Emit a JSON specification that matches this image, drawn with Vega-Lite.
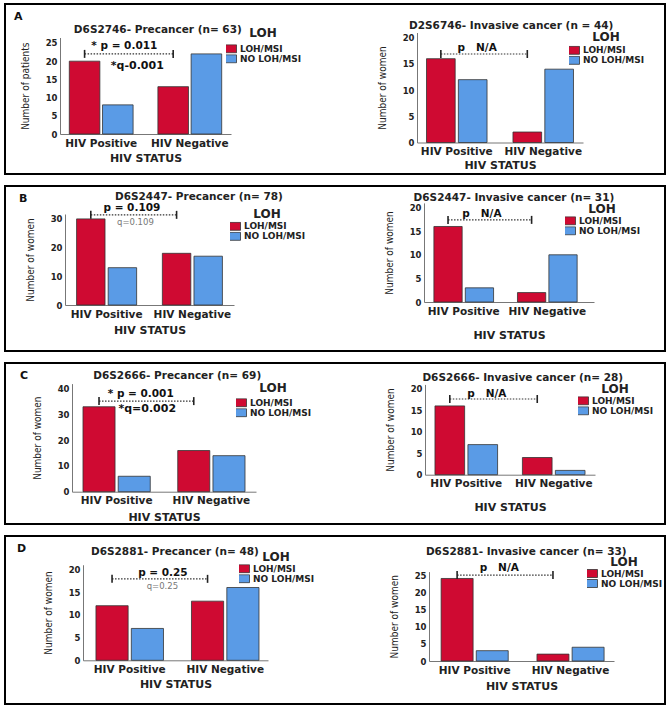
{
"$schema": "https://vega.github.io/schema/vega-lite/v6.json",
"padding": {"left": 4, "top": 3, "right": 5, "bottom": 4},
"autosize": {"type": "pad"},
"spacing": 12,
"bounds": "flush",
"vconcat": [
{
"width": 660, "height": 170,
"title": {"text": "A", "anchor": "start", "frame": "group", "offset": -18, "dx": 9, "fontSize": 11, "fontWeight": "bold", "font": "DejaVu Sans", "color": "#111"},
"resolve": {"scale": {"x": "independent", "y": "independent", "xOffset": "independent", "color": "independent"}, "axis": {"x": "independent", "y": "independent"}, "legend": {"color": "independent"}},
"layer": [
{
"data": {"values": [
{"k": "bar", "status": "HIV Positive", "loh": "LOH/MSI", "v": 20},
{"k": "bar", "status": "HIV Positive", "loh": "NO LOH/MSI", "v": 8},
{"k": "bar", "status": "HIV Negative", "loh": "LOH/MSI", "v": 13},
{"k": "bar", "status": "HIV Negative", "loh": "NO LOH/MSI", "v": 22},
{"k": "br", "status": "HIV Positive", "loh": "LOH/MSI", "v": 22},
{"k": "br", "status": "HIV Negative", "loh": "LOH/MSI", "v": 22},
{"k": "t", "status": "HIV Positive", "loh": "NO LOH/MSI", "v": 28.6, "label": "D6S2746- Precancer (n= 63)"},
{"k": "p", "status": "HIV Positive", "loh": "NO LOH/MSI", "v": 24.2, "label": "* p = 0.011"},
{"k": "q", "status": "HIV Positive", "loh": "NO LOH/MSI", "v": 18.7, "label": "*q-0.001"}
]},
"encoding": {
"x": {"field": "status", "type": "nominal", "sort": ["HIV Positive", "HIV Negative"], "scale": {"range": [55, 226], "paddingInner": 0.28, "paddingOuter": 0.105}, "axis": {"orient": "bottom", "offset": -40, "title": "HIV STATUS", "titlePadding": 4}},
"xOffset": {"field": "loh", "type": "nominal", "sort": ["LOH/MSI", "NO LOH/MSI"], "scale": {"paddingInner": 0.08}},
"y": {"field": "v", "type": "quantitative", "scale": {"domain": [0, 26.5], "range": [130, 33.5], "nice": false}, "axis": {"orient": "left", "offset": -55, "title": "Number of patients", "values": [0, 5, 10, 15, 20, 25]}}
},
"layer": [
{"transform": [{"filter": "datum.k === 'bar'"}], "mark": {"type": "bar", "stroke": "#333", "strokeWidth": 0.8}, "encoding": {"color": {"field": "loh", "type": "nominal", "scale": {"domain": ["LOH/MSI", "NO LOH/MSI"], "range": ["#CF0A32", "#5A9BE6"]}, "legend": {"orient": "none", "legendX": 221, "legendY": 24.3, "title": "LOH", "titlePadding": 4}}}},
{"transform": [{"filter": "datum.k === 'br'"}], "mark": {"type": "line", "color": "#333", "strokeDash": [1.5, 1.5], "strokeWidth": 1.2}},
{"transform": [{"filter": "datum.k === 'br'"}], "mark": {"type": "point", "shape": "M0,-1L0,1", "size": 64, "strokeWidth": 1.6, "color": "#222", "filled": false, "opacity": 1}},
{"transform": [{"filter": "datum.k === 't'"}], "mark": {"type": "text", "dx": 40, "fontSize": 10.5, "fontWeight": "bold", "color": "#222"}, "encoding": {"text": {"field": "label"}}},
{"transform": [{"filter": "datum.k === 'p'"}], "mark": {"type": "text", "dx": 6.5, "fontSize": 10.5, "fontWeight": "bold", "color": "#111"}, "encoding": {"text": {"field": "label"}}},
{"transform": [{"filter": "datum.k === 'q'"}], "mark": {"type": "text", "dx": 19.5, "fontSize": 11, "fontWeight": "bold", "color": "#111"}, "encoding": {"text": {"field": "label"}}}
]
},
{
"data": {"values": [
{"k": "bar", "status": "HIV Positive", "loh": "LOH/MSI", "v": 16},
{"k": "bar", "status": "HIV Positive", "loh": "NO LOH/MSI", "v": 12},
{"k": "bar", "status": "HIV Negative", "loh": "LOH/MSI", "v": 2},
{"k": "bar", "status": "HIV Negative", "loh": "NO LOH/MSI", "v": 14},
{"k": "br", "status": "HIV Positive", "loh": "LOH/MSI", "v": 16.9},
{"k": "br", "status": "HIV Negative", "loh": "LOH/MSI", "v": 16.9},
{"k": "t", "status": "HIV Positive", "loh": "NO LOH/MSI", "v": 22.24, "label": "D2S6746- Invasive cancer (n = 44)"},
{"k": "p", "status": "HIV Positive", "loh": "NO LOH/MSI", "v": 18.0, "label": "p\u00a0\u00a0\u00a0N/A"}
]},
"encoding": {
"x": {"field": "status", "type": "nominal", "sort": ["HIV Positive", "HIV Negative"], "scale": {"range": [412, 578], "paddingInner": 0.3, "paddingOuter": 0.11}, "axis": {"orient": "bottom", "offset": -31.5, "title": "HIV STATUS", "titlePadding": 2.5}},
"xOffset": {"field": "loh", "type": "nominal", "sort": ["LOH/MSI", "NO LOH/MSI"], "scale": {"paddingInner": 0.1}},
"y": {"field": "v", "type": "quantitative", "scale": {"domain": [0, 21], "range": [138.5, 28.5], "nice": false}, "axis": {"orient": "left", "offset": -412, "title": "Number of women", "values": [0, 5, 10, 15, 20]}}
},
"layer": [
{"transform": [{"filter": "datum.k === 'bar'"}], "mark": {"type": "bar", "stroke": "#333", "strokeWidth": 0.8}, "encoding": {"color": {"field": "loh", "type": "nominal", "scale": {"domain": ["LOH/MSI", "NO LOH/MSI"], "range": ["#CF0A32", "#5A9BE6"]}, "legend": {"orient": "none", "legendX": 564, "legendY": 28.3, "title": "LOH", "titlePadding": 1.5}}}},
{"transform": [{"filter": "datum.k === 'br'"}], "mark": {"type": "line", "color": "#333", "strokeDash": [1.5, 1.5], "strokeWidth": 1.2}},
{"transform": [{"filter": "datum.k === 'br'"}], "mark": {"type": "point", "shape": "M0,-1L0,1", "size": 64, "strokeWidth": 1.6, "color": "#222", "filled": false, "opacity": 1}},
{"transform": [{"filter": "datum.k === 't'"}], "mark": {"type": "text", "dx": 38.5, "fontSize": 10.5, "fontWeight": "bold", "color": "#222"}, "encoding": {"text": {"field": "label"}}},
{"transform": [{"filter": "datum.k === 'p'"}], "mark": {"type": "text", "dx": 4.5, "fontSize": 10.5, "fontWeight": "bold", "color": "#111"}, "encoding": {"text": {"field": "label"}}}
]
}
]
},
{
"width": 660, "height": 165,
"title": {"text": "B", "anchor": "start", "frame": "group", "offset": -18, "dx": 14, "fontSize": 11, "fontWeight": "bold", "font": "DejaVu Sans", "color": "#111"},
"resolve": {"scale": {"x": "independent", "y": "independent", "xOffset": "independent", "color": "independent"}, "axis": {"x": "independent", "y": "independent"}, "legend": {"color": "independent"}},
"layer": [
{
"data": {"values": [
{"k": "bar", "status": "HIV Positive", "loh": "LOH/MSI", "v": 30},
{"k": "bar", "status": "HIV Positive", "loh": "NO LOH/MSI", "v": 13},
{"k": "bar", "status": "HIV Negative", "loh": "LOH/MSI", "v": 18},
{"k": "bar", "status": "HIV Negative", "loh": "NO LOH/MSI", "v": 17},
{"k": "br", "status": "HIV Positive", "loh": "LOH/MSI", "v": 31.4},
{"k": "br", "status": "HIV Negative", "loh": "LOH/MSI", "v": 31.4},
{"k": "t", "status": "HIV Positive", "loh": "NO LOH/MSI", "v": 37.5, "label": "D6S2447- Precancer (n= 78)"},
{"k": "p", "status": "HIV Positive", "loh": "NO LOH/MSI", "v": 33.7, "label": "p = 0.109"},
{"k": "q", "status": "HIV Positive", "loh": "NO LOH/MSI", "v": 28.9, "label": "q=0.109"}
]},
"encoding": {
"x": {"field": "status", "type": "nominal", "sort": ["HIV Positive", "HIV Negative"], "scale": {"range": [60, 229], "paddingInner": 0.3, "paddingOuter": 0.135}, "axis": {"orient": "bottom", "offset": -46, "title": "HIV STATUS", "titlePadding": 5}},
"xOffset": {"field": "loh", "type": "nominal", "sort": ["LOH/MSI", "NO LOH/MSI"], "scale": {"paddingInner": 0.1}},
"y": {"field": "v", "type": "quantitative", "scale": {"domain": [0, 31.7], "range": [119, 28], "nice": false}, "axis": {"orient": "left", "offset": -60, "title": "Number of women", "values": [0, 10, 20, 30]}}
},
"layer": [
{"transform": [{"filter": "datum.k === 'bar'"}], "mark": {"type": "bar", "stroke": "#333", "strokeWidth": 0.8}, "encoding": {"color": {"field": "loh", "type": "nominal", "scale": {"domain": ["LOH/MSI", "NO LOH/MSI"], "range": ["#CF0A32", "#5A9BE6"]}, "legend": {"orient": "none", "legendX": 225, "legendY": 23.3, "title": "LOH", "titlePadding": 0.5}}}},
{"transform": [{"filter": "datum.k === 'br'"}], "mark": {"type": "line", "color": "#333", "strokeDash": [1.5, 1.5], "strokeWidth": 1.2}},
{"transform": [{"filter": "datum.k === 'br'"}], "mark": {"type": "point", "shape": "M0,-1L0,1", "size": 64, "strokeWidth": 1.6, "color": "#222", "filled": false, "opacity": 1}},
{"transform": [{"filter": "datum.k === 't'"}], "mark": {"type": "text", "dx": 76.5, "fontSize": 10.5, "fontWeight": "bold", "color": "#222"}, "encoding": {"text": {"field": "label"}}},
{"transform": [{"filter": "datum.k === 'p'"}], "mark": {"type": "text", "dx": 9.5, "fontSize": 10.5, "fontWeight": "bold", "color": "#111"}, "encoding": {"text": {"field": "label"}}},
{"transform": [{"filter": "datum.k === 'q'"}], "mark": {"type": "text", "dx": 13, "fontSize": 8.5, "fontWeight": "normal", "color": "#777"}, "encoding": {"text": {"field": "label"}}}
]
},
{
"data": {"values": [
{"k": "bar", "status": "HIV Positive", "loh": "LOH/MSI", "v": 16},
{"k": "bar", "status": "HIV Positive", "loh": "NO LOH/MSI", "v": 3},
{"k": "bar", "status": "HIV Negative", "loh": "LOH/MSI", "v": 2},
{"k": "bar", "status": "HIV Negative", "loh": "NO LOH/MSI", "v": 10},
{"k": "br", "status": "HIV Positive", "loh": "LOH/MSI", "v": 17.4},
{"k": "br", "status": "HIV Negative", "loh": "LOH/MSI", "v": 17.4},
{"k": "t", "status": "HIV Positive", "loh": "NO LOH/MSI", "v": 22.03, "label": "D6S2447- Invasive cancer (n= 31)"},
{"k": "p", "status": "HIV Positive", "loh": "NO LOH/MSI", "v": 18.6, "label": "p\u00a0\u00a0\u00a0N/A"}
]},
"encoding": {
"x": {"field": "status", "type": "nominal", "sort": ["HIV Positive", "HIV Negative"], "scale": {"range": [419, 589], "paddingInner": 0.286, "paddingOuter": 0.16, "align": 0.37}, "axis": {"orient": "bottom", "offset": -49, "title": "HIV STATUS", "titlePadding": 13}},
"xOffset": {"field": "loh", "type": "nominal", "sort": ["LOH/MSI", "NO LOH/MSI"], "scale": {"paddingInner": 0.1}},
"y": {"field": "v", "type": "quantitative", "scale": {"domain": [0, 21], "range": [116, 16.9], "nice": false}, "axis": {"orient": "left", "offset": -419, "title": "Number of women", "values": [0, 5, 10, 15, 20]}}
},
"layer": [
{"transform": [{"filter": "datum.k === 'bar'"}], "mark": {"type": "bar", "stroke": "#333", "strokeWidth": 0.8}, "encoding": {"color": {"field": "loh", "type": "nominal", "scale": {"domain": ["LOH/MSI", "NO LOH/MSI"], "range": ["#CF0A32", "#5A9BE6"]}, "legend": {"orient": "none", "legendX": 560, "legendY": 18.3, "title": "LOH", "titlePadding": 0}}}},
{"transform": [{"filter": "datum.k === 'br'"}], "mark": {"type": "line", "color": "#333", "strokeDash": [1.5, 1.5], "strokeWidth": 1.2}},
{"transform": [{"filter": "datum.k === 'br'"}], "mark": {"type": "point", "shape": "M0,-1L0,1", "size": 64, "strokeWidth": 1.6, "color": "#222", "filled": false, "opacity": 1}},
{"transform": [{"filter": "datum.k === 't'"}], "mark": {"type": "text", "dx": 34.5, "fontSize": 10.5, "fontWeight": "bold", "color": "#222"}, "encoding": {"text": {"field": "label"}}},
{"transform": [{"filter": "datum.k === 'p'"}], "mark": {"type": "text", "dx": 2.5, "fontSize": 10.5, "fontWeight": "bold", "color": "#111"}, "encoding": {"text": {"field": "label"}}}
]
}
]
},
{
"width": 660, "height": 161,
"title": {"text": "C", "anchor": "start", "frame": "group", "offset": -18, "dx": 15, "fontSize": 11, "fontWeight": "bold", "font": "DejaVu Sans", "color": "#111"},
"resolve": {"scale": {"x": "independent", "y": "independent", "xOffset": "independent", "color": "independent"}, "axis": {"x": "independent", "y": "independent"}, "legend": {"color": "independent"}},
"layer": [
{
"data": {"values": [
{"k": "bar", "status": "HIV Positive", "loh": "LOH/MSI", "v": 33},
{"k": "bar", "status": "HIV Positive", "loh": "NO LOH/MSI", "v": 6},
{"k": "bar", "status": "HIV Negative", "loh": "LOH/MSI", "v": 16},
{"k": "bar", "status": "HIV Negative", "loh": "NO LOH/MSI", "v": 14},
{"k": "br", "status": "HIV Positive", "loh": "LOH/MSI", "v": 35.2},
{"k": "br", "status": "HIV Negative", "loh": "LOH/MSI", "v": 35.2},
{"k": "t", "status": "HIV Positive", "loh": "NO LOH/MSI", "v": 44.93, "label": "D6S2666- Precancer (n= 69)"},
{"k": "p", "status": "HIV Positive", "loh": "NO LOH/MSI", "v": 37.9, "label": "* p = 0.001"},
{"k": "q", "status": "HIV Positive", "loh": "NO LOH/MSI", "v": 32.1, "label": "*q=0.002"}
]},
"encoding": {
"x": {"field": "status", "type": "nominal", "sort": ["HIV Positive", "HIV Negative"], "scale": {"range": [67, 251], "paddingInner": 0.29, "paddingOuter": 0.116}, "axis": {"orient": "bottom", "offset": -32.3, "title": "HIV STATUS", "titlePadding": 5}},
"xOffset": {"field": "loh", "type": "nominal", "sort": ["LOH/MSI", "NO LOH/MSI"], "scale": {"paddingInner": 0.09}},
"y": {"field": "v", "type": "quantitative", "scale": {"domain": [0, 42], "range": [128.7, 20.6], "nice": false}, "axis": {"orient": "left", "offset": -67, "title": "Number of women", "values": [0, 10, 20, 30, 40]}}
},
"layer": [
{"transform": [{"filter": "datum.k === 'bar'"}], "mark": {"type": "bar", "stroke": "#333", "strokeWidth": 0.8}, "encoding": {"color": {"field": "loh", "type": "nominal", "scale": {"domain": ["LOH/MSI", "NO LOH/MSI"], "range": ["#CF0A32", "#5A9BE6"]}, "legend": {"orient": "none", "legendX": 231, "legendY": 19.7, "title": "LOH", "titlePadding": 3.5}}}},
{"transform": [{"filter": "datum.k === 'br'"}], "mark": {"type": "line", "color": "#333", "strokeDash": [1.5, 1.5], "strokeWidth": 1.2}},
{"transform": [{"filter": "datum.k === 'br'"}], "mark": {"type": "point", "shape": "M0,-1L0,1", "size": 64, "strokeWidth": 1.6, "color": "#222", "filled": false, "opacity": 1}},
{"transform": [{"filter": "datum.k === 't'"}], "mark": {"type": "text", "dx": 43, "fontSize": 10.5, "fontWeight": "bold", "color": "#222"}, "encoding": {"text": {"field": "label"}}},
{"transform": [{"filter": "datum.k === 'p'"}], "mark": {"type": "text", "dx": 6.5, "fontSize": 10.5, "fontWeight": "bold", "color": "#111"}, "encoding": {"text": {"field": "label"}}},
{"transform": [{"filter": "datum.k === 'q'"}], "mark": {"type": "text", "dx": 13, "fontSize": 11, "fontWeight": "bold", "color": "#111"}, "encoding": {"text": {"field": "label"}}}
]
},
{
"data": {"values": [
{"k": "bar", "status": "HIV Positive", "loh": "LOH/MSI", "v": 16},
{"k": "bar", "status": "HIV Positive", "loh": "NO LOH/MSI", "v": 7},
{"k": "bar", "status": "HIV Negative", "loh": "LOH/MSI", "v": 4},
{"k": "bar", "status": "HIV Negative", "loh": "NO LOH/MSI", "v": 1},
{"k": "br", "status": "HIV Positive", "loh": "LOH/MSI", "v": 17.6},
{"k": "br", "status": "HIV Negative", "loh": "LOH/MSI", "v": 17.6},
{"k": "t", "status": "HIV Positive", "loh": "NO LOH/MSI", "v": 22.49, "label": "D6S2666- Invasive cancer (n= 28)"},
{"k": "p", "status": "HIV Positive", "loh": "NO LOH/MSI", "v": 18.8, "label": "p\u00a0\u00a0\u00a0N/A"}
]},
"encoding": {
"x": {"field": "status", "type": "nominal", "sort": ["HIV Positive", "HIV Negative"], "scale": {"range": [420, 590], "paddingInner": 0.284, "paddingOuter": 0.114}, "axis": {"orient": "bottom", "offset": -49.3, "title": "HIV STATUS", "titlePadding": 12}},
"xOffset": {"field": "loh", "type": "nominal", "sort": ["LOH/MSI", "NO LOH/MSI"], "scale": {"paddingInner": 0.1}},
"y": {"field": "v", "type": "quantitative", "scale": {"domain": [0, 21], "range": [111.7, 21.4], "nice": false}, "axis": {"orient": "left", "offset": -420, "title": "Number of women", "values": [0, 5, 10, 15, 20]}}
},
"layer": [
{"transform": [{"filter": "datum.k === 'bar'"}], "mark": {"type": "bar", "stroke": "#333", "strokeWidth": 0.8}, "encoding": {"color": {"field": "loh", "type": "nominal", "scale": {"domain": ["LOH/MSI", "NO LOH/MSI"], "range": ["#CF0A32", "#5A9BE6"]}, "legend": {"orient": "none", "legendX": 573, "legendY": 21.3, "title": "LOH", "titlePadding": 0}}}},
{"transform": [{"filter": "datum.k === 'br'"}], "mark": {"type": "line", "color": "#333", "strokeDash": [1.5, 1.5], "strokeWidth": 1.2}},
{"transform": [{"filter": "datum.k === 'br'"}], "mark": {"type": "point", "shape": "M0,-1L0,1", "size": 64, "strokeWidth": 1.6, "color": "#222", "filled": false, "opacity": 1}},
{"transform": [{"filter": "datum.k === 't'"}], "mark": {"type": "text", "dx": 40, "fontSize": 10.5, "fontWeight": "bold", "color": "#222"}, "encoding": {"text": {"field": "label"}}},
{"transform": [{"filter": "datum.k === 'p'"}], "mark": {"type": "text", "dx": 4, "fontSize": 10.5, "fontWeight": "bold", "color": "#111"}, "encoding": {"text": {"field": "label"}}}
]
}
]
},
{
"width": 660, "height": 168,
"title": {"text": "D", "anchor": "start", "frame": "group", "offset": -18, "dx": 12, "fontSize": 11, "fontWeight": "bold", "font": "DejaVu Sans", "color": "#111"},
"resolve": {"scale": {"x": "independent", "y": "independent", "xOffset": "independent", "color": "independent"}, "axis": {"x": "independent", "y": "independent"}, "legend": {"color": "independent"}},
"layer": [
{
"data": {"values": [
{"k": "bar", "status": "HIV Positive", "loh": "LOH/MSI", "v": 12},
{"k": "bar", "status": "HIV Positive", "loh": "NO LOH/MSI", "v": 7},
{"k": "bar", "status": "HIV Negative", "loh": "LOH/MSI", "v": 13},
{"k": "bar", "status": "HIV Negative", "loh": "NO LOH/MSI", "v": 16},
{"k": "br", "status": "HIV Positive", "loh": "LOH/MSI", "v": 17.9},
{"k": "br", "status": "HIV Negative", "loh": "LOH/MSI", "v": 17.9},
{"k": "t", "status": "HIV Positive", "loh": "NO LOH/MSI", "v": 23.8, "label": "D6S2881- Precancer (n= 48)"},
{"k": "p", "status": "HIV Positive", "loh": "NO LOH/MSI", "v": 19.2, "label": "p = 0.25"},
{"k": "q", "status": "HIV Positive", "loh": "NO LOH/MSI", "v": 16.3, "label": "q=0.25"}
]},
"encoding": {
"x": {"field": "status", "type": "nominal", "sort": ["HIV Positive", "HIV Negative"], "scale": {"range": [78, 263], "paddingInner": 0.293, "paddingOuter": 0.115, "align": 0.59}, "axis": {"orient": "bottom", "offset": -43.7, "title": "HIV STATUS", "titlePadding": 3.7}},
"xOffset": {"field": "loh", "type": "nominal", "sort": ["LOH/MSI", "NO LOH/MSI"], "scale": {"paddingInner": 0.09}},
"y": {"field": "v", "type": "quantitative", "scale": {"domain": [0, 21], "range": [124.3, 28.75], "nice": false}, "axis": {"orient": "left", "offset": -78, "title": "Number of women", "values": [0, 5, 10, 15, 20]}}
},
"layer": [
{"transform": [{"filter": "datum.k === 'bar'"}], "mark": {"type": "bar", "stroke": "#333", "strokeWidth": 0.8}, "encoding": {"color": {"field": "loh", "type": "nominal", "scale": {"domain": ["LOH/MSI", "NO LOH/MSI"], "range": ["#CF0A32", "#5A9BE6"]}, "legend": {"orient": "none", "legendX": 234, "legendY": 15.7, "title": "LOH", "titlePadding": 0.5}}}},
{"transform": [{"filter": "datum.k === 'br'"}], "mark": {"type": "line", "color": "#333", "strokeDash": [1.5, 1.5], "strokeWidth": 1.2}},
{"transform": [{"filter": "datum.k === 'br'"}], "mark": {"type": "point", "shape": "M0,-1L0,1", "size": 64, "strokeWidth": 1.6, "color": "#222", "filled": false, "opacity": 1}},
{"transform": [{"filter": "datum.k === 't'"}], "mark": {"type": "text", "dx": 27.5, "fontSize": 10.5, "fontWeight": "bold", "color": "#222"}, "encoding": {"text": {"field": "label"}}},
{"transform": [{"filter": "datum.k === 'p'"}], "mark": {"type": "text", "dx": 15.5, "fontSize": 10.5, "fontWeight": "bold", "color": "#111"}, "encoding": {"text": {"field": "label"}}},
{"transform": [{"filter": "datum.k === 'q'"}], "mark": {"type": "text", "dx": 15, "fontSize": 8.5, "fontWeight": "normal", "color": "#777"}, "encoding": {"text": {"field": "label"}}}
]
},
{
"data": {"values": [
{"k": "bar", "status": "HIV Positive", "loh": "LOH/MSI", "v": 24},
{"k": "bar", "status": "HIV Positive", "loh": "NO LOH/MSI", "v": 3},
{"k": "bar", "status": "HIV Negative", "loh": "LOH/MSI", "v": 2},
{"k": "bar", "status": "HIV Negative", "loh": "NO LOH/MSI", "v": 4},
{"k": "br", "status": "HIV Positive", "loh": "LOH/MSI", "v": 25.0},
{"k": "br", "status": "HIV Negative", "loh": "LOH/MSI", "v": 25.0},
{"k": "t", "status": "HIV Positive", "loh": "NO LOH/MSI", "v": 31.69, "label": "D6S2881- Invasive cancer (n= 33)"},
{"k": "p", "status": "HIV Positive", "loh": "NO LOH/MSI", "v": 27.0, "label": "p\u00a0\u00a0\u00a0N/A"}
]},
"encoding": {
"x": {"field": "status", "type": "nominal", "sort": ["HIV Positive", "HIV Negative"], "scale": {"range": [424, 609], "paddingInner": 0.3, "paddingOuter": 0.115, "align": 0.55}, "axis": {"orient": "bottom", "offset": -43, "title": "HIV STATUS", "titlePadding": 5}},
"xOffset": {"field": "loh", "type": "nominal", "sort": ["LOH/MSI", "NO LOH/MSI"], "scale": {"paddingInner": 0.09}},
"y": {"field": "v", "type": "quantitative", "scale": {"domain": [0, 26], "range": [125, 35.6], "nice": false}, "axis": {"orient": "left", "offset": -424, "title": "Number of women", "values": [0, 5, 10, 15, 20, 25]}}
},
"layer": [
{"transform": [{"filter": "datum.k === 'bar'"}], "mark": {"type": "bar", "stroke": "#333", "strokeWidth": 0.8}, "encoding": {"color": {"field": "loh", "type": "nominal", "scale": {"domain": ["LOH/MSI", "NO LOH/MSI"], "range": ["#CF0A32", "#5A9BE6"]}, "legend": {"orient": "none", "legendX": 582, "legendY": 21, "title": "LOH", "titlePadding": 0}}}},
{"transform": [{"filter": "datum.k === 'br'"}], "mark": {"type": "line", "color": "#333", "strokeDash": [1.5, 1.5], "strokeWidth": 1.2}},
{"transform": [{"filter": "datum.k === 'br'"}], "mark": {"type": "point", "shape": "M0,-1L0,1", "size": 64, "strokeWidth": 1.6, "color": "#222", "filled": false, "opacity": 1}},
{"transform": [{"filter": "datum.k === 't'"}], "mark": {"type": "text", "dx": 34, "fontSize": 10.5, "fontWeight": "bold", "color": "#222"}, "encoding": {"text": {"field": "label"}}},
{"transform": [{"filter": "datum.k === 'p'"}], "mark": {"type": "text", "dx": 7, "fontSize": 10.5, "fontWeight": "bold", "color": "#111"}, "encoding": {"text": {"field": "label"}}}
]
}
]
}
],
"config": {
"view": {"stroke": "#000", "strokeWidth": 2},
"font": "DejaVu Sans",
"text": {"font": "DejaVu Sans"},
"axis": {"grid": false, "ticks": false, "domainColor": "#777", "domainWidth": 1, "labelColor": "#222", "labelFont": "DejaVu Sans", "labelFontWeight": "bold", "titleColor": "#222"},
"axisX": {"labelAngle": 0, "labelFontSize": 10.5, "labelPadding": 4, "titleFont": "DejaVu Sans", "titleFontSize": 11, "titleFontWeight": "bold"},
"axisY": {"labelFontSize": 8.5, "labelPadding": 3, "titleFont": "DejaVu Sans Condensed, DejaVu Sans, sans-serif", "titleFontSize": 10, "titleFontWeight": "normal", "titlePadding": 15},
"legend": {"titleFont": "DejaVu Sans", "titleFontSize": 12, "titleFontWeight": "bold", "titleColor": "#222", "titleAnchor": "middle", "titleAlign": "center", "labelFont": "DejaVu Sans", "labelFontSize": 9, "labelFontWeight": "bold", "labelColor": "#222", "labelOffset": 5, "symbolType": "M-3,-2H3V2H-3Z", "symbolSize": 16, "symbolStrokeColor": "#333", "symbolStrokeWidth": 0.8, "symbolOpacity": 1, "rowPadding": 0, "clipHeight": 9, "padding": 0}
}
}
